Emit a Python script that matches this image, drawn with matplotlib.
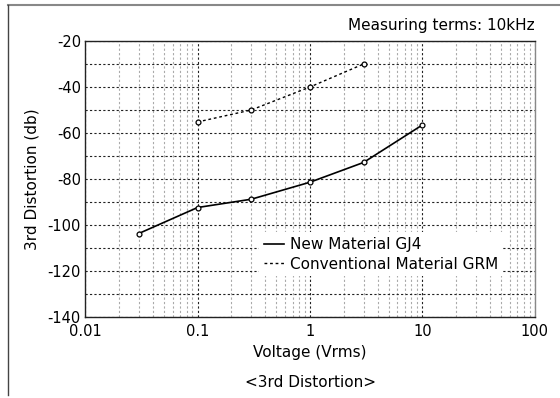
import numpy as np
import matplotlib.pyplot as plt
from matplotlib.ticker import LogLocator, MultipleLocator, FixedFormatter, FixedLocator
from matplotlib.lines import Line2D

plt.rcParams.update({'font.size': 10.5, 'font.family': 'DejaVu Sans',
                     'axes.unicode_minus': False})

# data
v_gj4 = [0.03, 0.1, 0.3, 1, 3, 10]
d_gj4 = [-103.7, -92.4, -88.8, -81.4, -72.8, -56.5]
v_grm = [0.1, 0.3, 1, 3]
d_grm = [-55.2, -50, -40, -30]

fig = plt.figure(figsize=(5.6, 3.98), dpi=100)
ax = fig.add_axes([0.152, 0.2035, 0.803, 0.6935])

ax.plot(v_gj4, d_gj4, '-', color='k', lw=1.2, marker='o', ms=3.5, mfc='w', mew=0.9,
        label='New Material GJ4')
ax.plot(v_grm, d_grm, linestyle=(0, (2, 2)), color='k', lw=1.0, marker='o', ms=3.5,
        mfc='w', mew=0.9, label='Conventional Material GRM')

ax.set_xscale('log')
ax.set_xlim(0.01, 100)
ax.set_ylim(-140, -20)
ax.xaxis.set_major_locator(FixedLocator([0.01, 0.1, 1, 10, 100]))
ax.xaxis.set_major_formatter(FixedFormatter(['0.01', '0.1', '1', '10', '100']))
ax.xaxis.set_minor_locator(LogLocator(base=10, subs=np.arange(2, 10)))
ax.xaxis.set_minor_formatter(plt.NullFormatter())
ax.yaxis.set_major_locator(MultipleLocator(20))
ax.yaxis.set_minor_locator(MultipleLocator(10))
ax.tick_params(which='both', length=0)
ax.tick_params(axis='x', pad=5)
ax.tick_params(axis='y', pad=3)

ax.grid(which='major', axis='x', color='#222222', ls=(0, (2, 2)), lw=0.8)
ax.grid(which='minor', axis='x', color='#aaaaaa', ls=(0, (2, 2)), lw=0.8)
ax.grid(which='both', axis='y', color='#222222', ls=(0, (2, 2)), lw=0.8)
ax.set_axisbelow(True)

for s in ['left', 'bottom', 'top']:
    ax.spines[s].set_color('#222222')
ax.spines['right'].set_color('#888888')
for s in ax.spines.values():
    s.set_linewidth(1.0)

ax.set_xlabel('Voltage (Vrms)', fontsize=11, labelpad=4)
ax.set_ylabel('3rd Distortion (db)', fontsize=11, labelpad=6)

leg = ax.legend(loc='lower left', bbox_to_anchor=(0.37, 0.12), frameon=True,
                fontsize=11, handlelength=1.3, handletextpad=0.4, borderpad=0.3,
                labelspacing=0.3, fancybox=False)
leg.get_frame().set_edgecolor('none')
leg.get_frame().set_facecolor('white')
leg.get_frame().set_alpha(1)
for h in leg.legend_handles:
    h.set_marker('')

fig.text(0.955, 0.918, 'Measuring terms: 10kHz', ha='right', va='bottom', fontsize=11)
fig.text(0.554, 0.038, '<3rd Distortion>', ha='center', va='center', fontsize=11)

# outer frame, top and left only
fig.add_artist(Line2D([0.0143, 1.0], [0.987, 0.987], color='#888888', lw=1.5))
fig.add_artist(Line2D([0.0143, 0.0143], [0.0075, 0.987], color='#444444', lw=1.0))

fig.savefig('out.png', dpi=100)
